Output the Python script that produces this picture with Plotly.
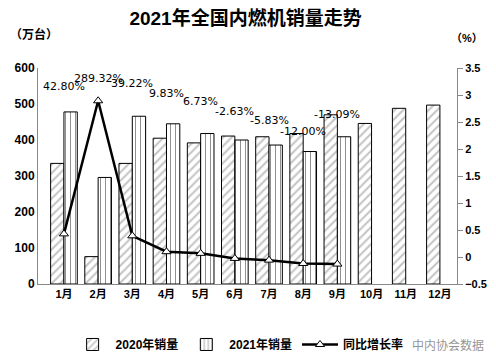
import plotly.graph_objects as go

months = ["1月", "2月", "3月", "4月", "5月", "6月", "7月", "8月", "9月", "10月", "11月", "12月"]
sales_2020 = [335, 76, 335, 405, 392, 411, 409, 418, 470, 446, 488, 497]
sales_2021 = [478, 296, 466, 445, 418, 400, 386, 368, 409, None, None, None]
growth = [0.428, 2.8932, 0.3922, 0.0983, 0.0673, -0.0263, -0.0583, -0.12, -0.1309]
growth_labels = ["42.80%", "289.32%", "39.22%", "9.83%", "6.73%", "-2.63%", "-5.83%", "-12.00%", "-13.09%"]
label_y = [550, 572, 558, 528, 506, 478, 453, 425, 472]

CJK = "Liberation Sans, Noto Sans CJK SC, sans-serif"

fig = go.Figure()
fig.add_trace(go.Bar(
    x=months, y=sales_2020, name="2020年销量",
    marker=dict(color="white", line=dict(color="black", width=1),
                pattern=dict(shape="/", fgcolor="#8a8a8a", bgcolor="white", size=6, solidity=0.35)),
))
fig.add_trace(go.Bar(
    x=months, y=sales_2021, name="2021年销量",
    marker=dict(color="white", line=dict(color="black", width=1),
                pattern=dict(shape="|", fgcolor="#222222", bgcolor="white", size=5, solidity=0.2)),
))
fig.add_trace(go.Scatter(
    x=months[:len(growth)], y=growth, name="同比增长率", yaxis="y2", mode="lines+markers",
    line=dict(color="black", width=2.5),
    marker=dict(symbol="triangle-up", size=8, color="white", line=dict(color="black", width=1)),
))

for m, t, yy in zip(months, growth_labels, label_y):
    fig.add_annotation(x=m, y=yy, xref="x", yref="y", text=t, showarrow=False,
                       font=dict(family="DejaVu Sans", size=11, color="black"))

fig.update_layout(
    width=496, height=363,
    margin=dict(l=38, r=39, t=68, b=79, autoexpand=False),
    paper_bgcolor="white", plot_bgcolor="white",
    font=dict(family=CJK, size=11, color="black"),
    title=dict(text="2021年全国内燃机销量走势", x=0.495, xanchor="center", y=0.95, yanchor="middle",
               font=dict(family=CJK, size=19, color="black", weight="bold")),
    barmode="group", bargap=0.22, bargroupgap=0.0,
    showlegend=True,
    legend=dict(orientation="h", x=0.48, xanchor="center", y=-0.28, yanchor="middle",
                font=dict(family=CJK, size=12, color="black", weight="bold"),
                itemwidth=36, bgcolor="rgba(0,0,0,0)"),
    xaxis=dict(showline=True, linecolor="#888888", linewidth=1, ticks="", showgrid=False,
               automargin=False,
               tickfont=dict(family=CJK, size=11, color="black", weight="bold")),
    yaxis=dict(range=[0, 600], dtick=100, showline=True, linecolor="#888888", linewidth=1,
               ticks="", showgrid=False, zeroline=False, automargin=False,
               tickfont=dict(family=CJK, size=12, color="black", weight="bold")),
    yaxis2=dict(range=[-0.5, 3.5], dtick=0.5, overlaying="y", side="right", showline=True,
                linecolor="#888888", linewidth=1, ticks="outside", ticklen=5, tickcolor="#888888",
                showgrid=False, zeroline=False, automargin=False,
                tickfont=dict(family=CJK, size=11, color="black", weight="bold")),
)

fig.add_annotation(x=-0.01, y=1.153, xref="paper", yref="paper", text="（万台）", showarrow=False,
                   xanchor="center", yanchor="middle",
                   font=dict(family=CJK, size=12, color="black", weight="bold"))
fig.add_annotation(x=1.025, y=1.14, xref="paper", yref="paper", text="（%）", showarrow=False,
                   xanchor="center", yanchor="middle",
                   font=dict(family=CJK, size=11, color="black", weight="bold"))
fig.add_annotation(x=1.07, y=-0.28, xref="paper", yref="paper", text="中内协会数据", showarrow=False,
                   xanchor="right", yanchor="middle",
                   font=dict(family="Noto Sans CJK SC", size=12, color="rgba(120,120,120,0.8)"))

fig.write_html("out.html", config={"displayModeBar": False},
               post_script="document.body.style.margin='0';")
